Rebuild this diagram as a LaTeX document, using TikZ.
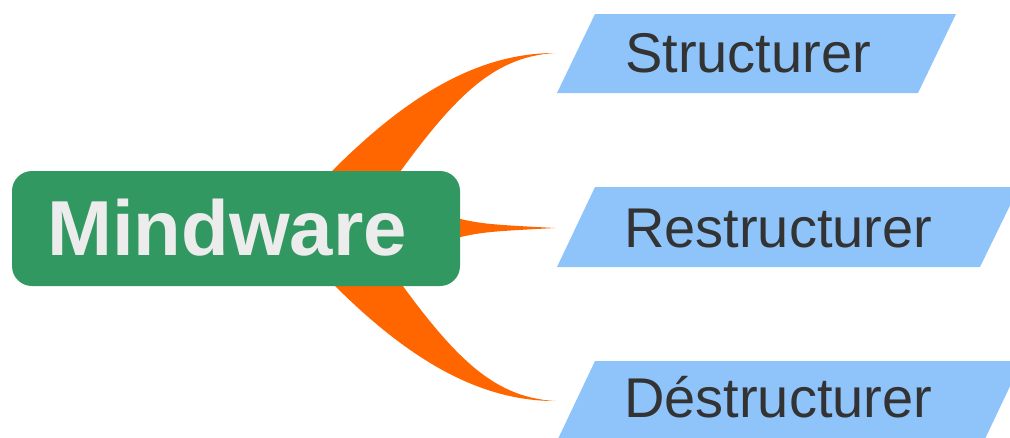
\documentclass[tikz,border=0pt]{standalone}
\usepackage{fontspec}
\setmainfont{Liberation Sans}
\definecolor{mindgreen}{RGB}{50,152,98}
\definecolor{leafblue}{RGB}{143,196,251}
\definecolor{branchorange}{RGB}{255,102,0}
\definecolor{leaftext}{RGB}{51,51,51}
\definecolor{mindtext}{RGB}{236,236,236}
\begin{document}
\begin{tikzpicture}[x=1pt,y=-1pt,
  branch/.style={fill=branchorange,draw=none},
  leaf/.style={fill=leafblue,draw=none},
  leaflabel/.style={anchor=base west,inner sep=0pt,text=leaftext,
    font=\fontsize{56}{60}\selectfont},
  mindbox/.style={fill=mindgreen,draw=none,rounded corners=20pt,
    minimum width=448pt,minimum height=115pt,inner sep=0pt},
  mindlabel/.style={anchor=base,inner sep=0pt,text=mindtext,
    font=\fontsize{78}{90}\selectfont\bfseries}]
\useasboundingbox (0,0) rectangle (1010,437);
\clip (0,0) rectangle (1010,437);

% tips of the three branches
\coordinate (tipS) at (555,53);
\coordinate (tipR) at (555,228);
\coordinate (tipD) at (555,401);

% tapered branches (drawn first, the central box covers their roots)
\fill[branch] (300,205) .. controls (390,105) and (470,53) .. (tipS)
  .. controls (490,57) and (450,100) .. (380,200) -- cycle;
\fill[branch] (440,214) .. controls (480,224) .. (tipR)
  .. controls (480,232) .. (440,242) -- cycle;
\fill[branch] (300,249) .. controls (390,349) and (470,401) .. (tipD)
  .. controls (490,397) and (450,354) .. (380,254) -- cycle;

% leaf parallelograms
\fill[leaf] (557,93) -- (595,14) -- (956,14) -- (918,93) -- cycle;
\fill[leaf] (557,267) -- (595,187) -- (1019,187) -- (980,267) -- cycle;
\fill[leaf] (557,441) -- (595,361) -- (1022,361) -- (984,441) -- cycle;

\node[leaflabel] (structurer) at (625,72) {Structurer};
\node[leaflabel] (restructurer) at (624,247) {Restructurer};
\node[leaflabel] (destructurer) at (624,417) {Déstructurer};

% central topic
\node[mindbox] (mind) at (236,228.5) {};
\node[mindlabel] (mindword) at (227,255) {Mindware};
\end{tikzpicture}
\end{document}
